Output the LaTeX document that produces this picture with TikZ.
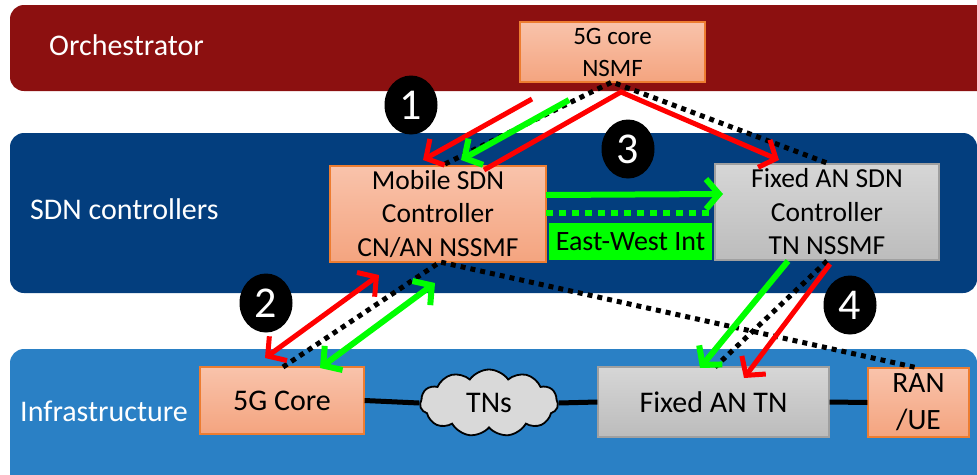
\documentclass[tikz,border=0pt]{standalone}
\usepackage{fontspec}
\setmainfont{Carlito}
\usetikzlibrary{arrows.meta,shapes.symbols,shapes.geometric}
\definecolor{orchc}{HTML}{8C1010}
\definecolor{sdnc}{HTML}{033E7E}
\definecolor{infc}{HTML}{2A80C5}
\definecolor{salt}{HTML}{F9C3AB}
\definecolor{salb}{HTML}{F4A47F}
\definecolor{salbd}{HTML}{ED7D31}
\definecolor{grt}{HTML}{D6D6D6}
\definecolor{grb}{HTML}{BCBCBC}
\definecolor{grbd}{HTML}{A0A0A0}
\definecolor{lgreen}{HTML}{00FF00}
\definecolor{lred}{HTML}{FF0000}
\definecolor{cloudc}{HTML}{D9D9D9}
\begin{document}
\begin{tikzpicture}[x=1pt,y=-1pt,
  bandlbl/.style={anchor=west,inner sep=0pt,text=white,font=\fontsize{30}{34}\selectfont},
  salbox/.style={draw=salbd,line width=1.2pt,top color=salt,bottom color=salb,inner sep=0pt,align=center,font=\fontsize{27.5}{33.5}\selectfont},
  grbox/.style={draw=grbd,line width=1.2pt,top color=grt,bottom color=grb,inner sep=0pt,align=center,font=\fontsize{27.5}{33.5}\selectfont},
  redarr/.style={draw=lred,line width=5pt,-{Straight Barb[length=13pt,width=30pt]}},
  grnarr/.style={draw=lgreen,line width=6pt,-{Straight Barb[length=13pt,width=30pt]}},
  dotline/.style={draw=black,line width=5pt,dash pattern=on 5pt off 5pt},
  numcirc/.style={ellipse,fill=black,text=white,minimum width=53pt,minimum height=59pt,inner sep=0pt,font=\fontsize{44}{44}\selectfont},
  linkline/.style={draw=black,line width=5pt}
]
\useasboundingbox (0,0) rectangle (977,474);
\clip (0,0) rectangle (977,474);

% bands
\fill[orchc,rounded corners=14pt] (10,5) rectangle (1010,91);
\fill[sdnc,rounded corners=14pt] (10,133) rectangle (977,293);
\fill[infc,rounded corners=14pt] (10,349) rectangle (977,520);

\node[bandlbl] (lorch) at (49,45) {Orchestrator};
\node[bandlbl] (lsdn) at (30,209) {SDN controllers};
\node[bandlbl] (linf) at (20,411) {Infrastructure};

% boxes
\node[salbox,minimum width=185pt,minimum height=60pt,font=\fontsize{25}{32}\selectfont] (nsmf) at (612.5,52) {5G core\\NSMF};
\node[salbox,minimum width=216pt,minimum height=96pt] (mob) at (438,214) {Mobile SDN\\Controller\\CN/AN NSSMF};
\node[grbox,minimum width=224pt,minimum height=96pt] (fix) at (827,212) {Fixed AN SDN\\Controller\\TN NSSMF};
\node[fill=lgreen,minimum width=163pt,minimum height=37pt,inner sep=0pt,font=\fontsize{28}{33}\selectfont] (ewi) at (630.5,241.5) {East-West Int};

\node[salbox,minimum width=164pt,minimum height=67pt,font=\fontsize{30}{34}\selectfont] (core) at (282,400.5) {5G Core};
\node[cloud,cloud puffs=11,cloud puff arc=110,aspect=2.1,draw=black,line width=1.8pt,fill=cloudc,minimum width=138pt,minimum height=67pt,inner sep=0pt,font=\fontsize{30}{34}\selectfont] (tns) at (489,403) {TNs};
\node[grbox,minimum width=231pt,minimum height=70pt,font=\fontsize{30}{34}\selectfont] (fixtn) at (713.5,402) {Fixed AN TN};
\node[salbox,minimum width=101pt,minimum height=69pt,font=\fontsize{29.5}{37}\selectfont] (ran) at (918.5,402.5) {RAN\\/UE};

% infrastructure links
\draw[linkline] (core.east) -- (tns.west);
\draw[linkline] (tns.east) -- (fixtn.west);
\draw[linkline] (fixtn.east) -- (ran.west);

% coordinates
\coordinate (apex) at (612,82);
\coordinate (mobtop) at (445,164);
\coordinate (fixtop) at (827,163);
\coordinate (mobbot) at (440,262);
\coordinate (coretop) at (283,367);
\coordinate (rantop) at (918,368);
\coordinate (fixbot) at (827,261);
\coordinate (fixtntop) at (715,367);

% dotted paths
\draw[dotline] (mobtop) -- (apex) -- (fixtop);
\draw[dotline] (coretop) -- (mobbot) -- (rantop);
\draw[dotline] (fixbot) -- (fixtntop);

% step 1
\coordinate (r1s) at (532,99);
\coordinate (r1e) at (423,160);
\coordinate (g1s) at (569,100);
\coordinate (g1e) at (461,160);
\draw[redarr] (r1s) -- (r1e);
\draw[grnarr] (g1s) -- (g1e);

% step 3
\coordinate (r3s) at (484,170);
\coordinate (r3a) at (621,92);
\coordinate (r3e) at (779,160);
\draw[redarr] (r3s) -- (r3a) -- (r3e);
\coordinate (gews) at (546,195);
\coordinate (gewe) at (723,194);
\draw[grnarr] (gews) -- (gewe);
\coordinate (gds) at (546,213);
\coordinate (gde) at (715,213);
\draw[draw=lgreen,line width=6pt,dash pattern=on 7pt off 6pt] (gds) -- (gde);

% step 2
\coordinate (r2a) at (265,358);
\coordinate (r2b) at (379,275);
\coordinate (g2a) at (320,368);
\coordinate (g2b) at (435,283);
\draw[redarr,{Straight Barb[length=13pt,width=30pt]}-{Straight Barb[length=13pt,width=30pt]}] (r2a) -- (r2b);
\draw[grnarr,{Straight Barb[length=13pt,width=30pt]}-{Straight Barb[length=13pt,width=30pt]}] (g2a) -- (g2b);

% step 4
\coordinate (g4s) at (788,261);
\coordinate (g4e) at (700,368);
\coordinate (r4s) at (830,264);
\coordinate (r4e) at (744,378);
\draw[grnarr] (g4s) -- (g4e);
\draw[redarr] (r4s) -- (r4e);

% numbers
\node[numcirc] (n1) at (411,105) {1};
\node[numcirc] (n3) at (628,149) {3};
\node[numcirc] (n2) at (266,303) {2};
\node[numcirc] (n4) at (850,305) {4};
\end{tikzpicture}
\end{document}
